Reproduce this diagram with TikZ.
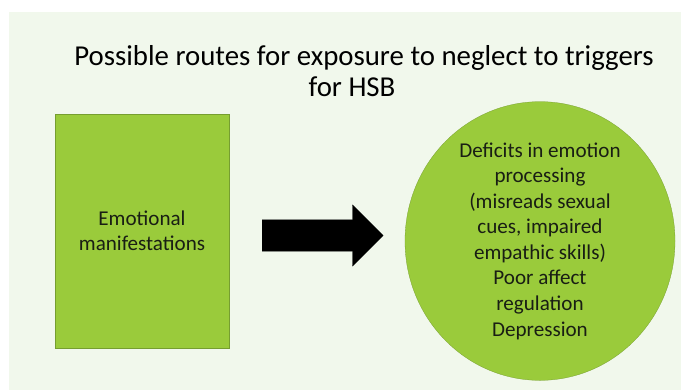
\documentclass[tikz,border=0pt]{standalone}
\usepackage{fontspec}
\setmainfont{Carlito}
\usetikzlibrary{shapes.geometric,shapes.arrows}
\definecolor{panelbg}{RGB}{241,248,236}
\definecolor{leafgreen}{RGB}{154,203,59}
\definecolor{leafedge}{RGB}{118,158,48}
\definecolor{inktext}{RGB}{25,30,20}
\tikzset{
  greenshape/.style={draw=leafedge,line width=0.4pt,fill=leafgreen,text=inktext,align=center,inner sep=0pt},
  bodytext/.style={font=\fontsize{30}{36.4}\selectfont}
}
\begin{document}
\begin{tikzpicture}[x=0.5mm,y=-0.5mm]
        %% Frame
        \useasboundingbox (0,0) rectangle (681,390);
        \fill[white] (0,0) rectangle (681,390);
        \fill[panelbg] (9,12) rectangle (681,390);
        %% Title
        \node[align=center,text=black,font=\fontsize{41}{43}\selectfont] (title) at (364,71)
            {Possible routes for exposure to neglect to triggers\\for HSB\hspace*{12mm}};
        %% Shapes
        \node[greenshape,shape=rectangle,minimum width=87mm,minimum height=117mm,
              font=\fontsize{30}{35.5}\selectfont] (emo) at (142,231)
            {Emotional\\manifestations};
        \node[greenshape,ellipse,minimum width=135mm,minimum height=126mm,bodytext] (deficits) at (540,241)
            {Deficits in emotion\\processing\\(misreads sexual\\cues, impaired\\empathic skills)\\Poor affect\\regulation\\Depression};
        %% Arrow
        \node[single arrow,fill=black,draw=black,inner xsep=0pt,inner ysep=7.75mm,minimum height=60.5mm,
              minimum width=30.5mm,single arrow head extend=7.5mm,anchor=tail] (link) at (262,235.5) {};
    \end{tikzpicture}
\end{document}
